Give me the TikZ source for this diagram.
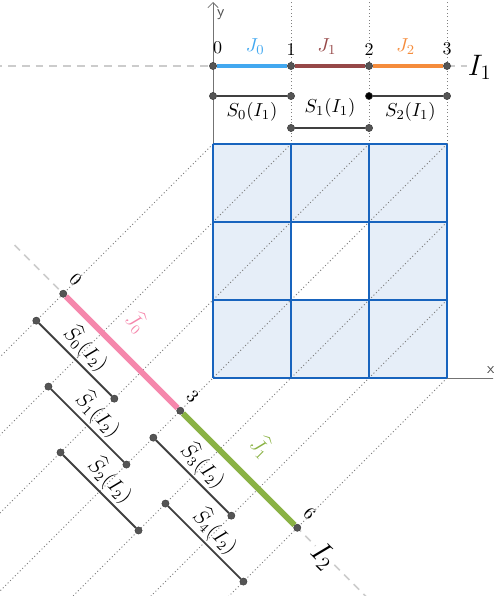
\documentclass[tikz,border=0pt]{standalone}
\usepackage{amsmath}
\usetikzlibrary{arrows.meta}

\definecolor{jzero}{RGB}{66,168,240}
\definecolor{jone}{RGB}{150,72,72}
\definecolor{jtwo}{RGB}{245,140,60}
\definecolor{hjzero}{RGB}{245,135,172}
\definecolor{hjone}{RGB}{138,178,68}
\definecolor{gridblue}{RGB}{24,100,190}
\definecolor{cellfill}{RGB}{230,238,248}
\definecolor{ptgray}{RGB}{85,85,85}

\tikzset{
  pt/.style={circle, fill=ptgray, draw=black!75, line width=0.3pt, inner sep=0pt, minimum size=4.2pt},
  seg/.style={draw=black!75, line width=1.1pt},
  proj/.style={draw=black!50, line width=0.6pt, dash pattern=on 0.6pt off 1.4pt},
  axisline/.style={draw=black!20, line width=0.9pt, dash pattern=on 4.5pt off 3.5pt},
}

\begin{document}
\begin{tikzpicture}[x=1.6cm,y=1.6cm, font=\fontsize{10.5}{12}\selectfont]
\def\ox{-1.92}
\def\oy{1.08}
\useasboundingbox (-2.731,-2.795) rectangle (3.590,4.846);
\clip (-2.731,-2.795) rectangle (3.590,4.846);

% square with empty middle cell
\fill[cellfill] (0,0) rectangle (3,3);
\fill[white] (1,1) rectangle (2,2);

% projection lines
\foreach \a/\b in {0/3,1/3,2/3,3/3,3/2,3/1,3/0}{
  \draw[proj] (\a,\b) -- ++(-8,-8);
}
\foreach \x in {1,2,3}{
  \draw[proj] (\x,3) -- (\x,4.9);
}

% axes
\draw[black!55, line width=0.5pt, -{Straight Barb[length=3pt]}] (0,0) -- (0,4.82);
\draw[black!55, line width=0.5pt] (0,0) -- (3.7,0);
\node[font=\sffamily\small, black!70] (ylab) at (0.1,4.66) {y};
\node[font=\sffamily\small, black!70] (xlab) at (3.56,0.1) {x};

\foreach \k in {0,...,3}{
  \draw[gridblue, line width=1.7pt] (\k,0) -- (\k,3);
  \draw[gridblue, line width=1.7pt] (0,\k) -- (3,\k);
}

% line I_1
\draw[axisline] (-2.8,4) -- (3.25,4);
\foreach \i in {0,...,3}{
  \node[pt] (a\i) at (\i,4) {};
}
\draw[jzero, line width=2.4pt] (a0) -- (a1);
\draw[jone, line width=2.4pt] (a1) -- (a2);
\draw[jtwo, line width=2.4pt] (a2) -- (a3);
\node[anchor=south] (n0) at (0.06,4.08) {0};
\foreach \i in {1,2,3}{
  \node[anchor=south] (n\i) at (\i,4.06) {\i};
}
\node[text=jzero, font=\fontsize{11}{13}\selectfont] (j0) at (0.54,4.25) {$J_0$};
\node[text=jone, font=\fontsize{11}{13}\selectfont] (j1) at (1.46,4.25) {$J_1$};
\node[text=jtwo, font=\fontsize{11}{13}\selectfont] (j2) at (2.47,4.25) {$J_2$};
\node[font=\LARGE] (i1) at (3.42,3.98) {$I_1$};

% images S_k(I_1)
\node[pt] (s0a) at (0,3.615) {};
\node[pt] (s0b) at (1,3.615) {};
\node[pt] (s1a) at (1,3.205) {};
\node[pt] (s1b) at (2,3.205) {};
\node[pt, fill=black] (s2a) at (2,3.615) {};
\node[pt] (s2b) at (3,3.615) {};
\draw[seg] (s0a) -- (s0b);
\draw[seg] (s1a) -- (s1b);
\draw[seg] (s2a) -- (s2b);
\node[font=\fontsize{11}{13}\selectfont] (l0) at (0.5,3.41) {$S_0(I_1)$};
\node[font=\fontsize{11}{13}\selectfont] (l1) at (1.5,3.46) {$S_1(I_1)$};
\node[font=\fontsize{11}{13}\selectfont] (l2) at (2.53,3.41) {$S_2(I_1)$};

% line I_2
\draw[axisline] ({\ox-0.625},{\oy+0.625}) -- ({\ox+5},{\oy-5});
\foreach \t in {0,3,6}{
  \node[pt] (b\t) at ({\ox+0.5*\t},{\oy-0.5*\t}) {};
  \node[rotate=-45] (m\t) at ({\ox+0.5*\t+0.16},{\oy-0.5*\t+0.18}) {\t};
}
\draw[hjzero, line width=3.4pt] (b0) -- node[pos=0.43, sloped, above=7pt, text=hjzero, font=\fontsize{12}{14}\selectfont] (hj0) {$\widehat{J}_0$} (b3);
\draw[hjone, line width=3.4pt] (b3) -- node[pos=0.5, sloped, above=7pt, text=hjone, font=\fontsize{12}{14}\selectfont] (hj1) {$\widehat{J}_1$} (b6);
\node[rotate=-45, font=\LARGE, fill=white, inner sep=0.5pt] (i2) at ({\ox+0.5*6.7-0.02},{\oy-0.5*6.7-0.02}) {$I_2$};

% images S_k(I_2)
\foreach \n/\t/\o in {0/0/0.345,1/1/0.69,2/2/1.035,3/3/0.345,4/4/0.69}{
  \node[pt] (sa\n) at ({\ox+0.5*\t-\o},{\oy-0.5*\t-\o}) {};
  \node[pt] (sb\n) at ({\ox+0.5*(\t+2)-\o},{\oy-0.5*(\t+2)-\o}) {};
  \draw[seg] (sa\n) -- node[sloped, above, inner sep=1.5pt, font=\fontsize{11.5}{13}\selectfont] (hs\n) {$\widehat{S}_{\n}(I_2)$} (sb\n);
}
\end{tikzpicture}
\end{document}
